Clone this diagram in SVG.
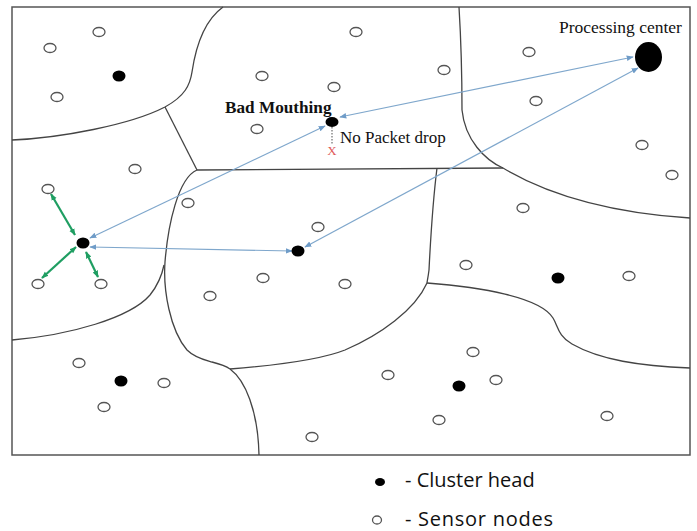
<svg xmlns="http://www.w3.org/2000/svg" width="697" height="531" viewBox="0 0 697 531">
  <style>
    .frame { fill: #fff; stroke: #555; stroke-width: 1.5; }
    .border { fill: none; stroke: #444; stroke-width: 1.3; }
    .sensor { fill: #fff; stroke: #555; stroke-width: 1.3; }
    .head { fill: #000; }
    .link { fill: none; stroke: #7fa7cc; stroke-width: 1.2; marker-start: url(#blueHead); marker-end: url(#blueHead); }
    .local { fill: none; stroke: #1f9e62; stroke-width: 2.2; marker-start: url(#greenHead); marker-end: url(#greenHead); }
    .serif { font-family: "Liberation Serif", "Times New Roman", serif; fill: #111; }
    .sans { font-family: "Open Sans", "Liberation Sans", sans-serif; fill: #111; font-size: 20px; }
  </style>
  <defs>
    <marker id="blueHead" viewBox="0 0 10 10" refX="9" refY="5" markerWidth="7" markerHeight="7" markerUnits="userSpaceOnUse" orient="auto-start-reverse">
      <path d="M0,1 L10,5 L0,9 Z" fill="#6f9cc8"/>
    </marker>
    <marker id="greenHead" viewBox="0 0 10 10" refX="9" refY="5" markerWidth="7" markerHeight="7" markerUnits="userSpaceOnUse" orient="auto-start-reverse">
      <path d="M0,1 L10,5 L0,9 Z" fill="#1f9e62"/>
    </marker>
  </defs>

  <rect x="0" y="0" width="697" height="531" fill="#fff"/>

  <!-- field and cluster boundaries -->
  <g id="field">
    <rect class="frame" x="12" y="7" width="678" height="448"/>
    <path class="border" d="M12,140 C60,138 130,125 165,107 C185,96 190,85 192,72 C196,45 205,20 223,7"/>
    <path class="border" d="M165,107 L197,170"/>
    <path class="border" d="M197,170 L503,168"/>
    <path class="border" d="M459,7 C461,40 462,90 462,110 C465,140 485,160 503,168 C540,190 600,212 690,218"/>
    <path class="border" d="M437,168 C433,200 430,250 429,270 C428,278 427,282 427,283"/>
    <path class="border" d="M12,340 C70,335 130,318 150,295 C158,285 162,275 164,265"/>
    <path class="border" d="M197,170 C178,178 168,225 165,262 C163,290 170,330 187,350 C195,358 205,360 212,362 C220,364 226,366 230,369"/>
    <path class="border" d="M230,369 C245,380 258,410 259,455"/>
    <path class="border" d="M230,369 C280,365 320,360 345,350 C380,335 415,310 427,283"/>
    <path class="border" d="M427,283 C480,287 540,297 553,318 C558,326 558,336 572,344 C600,360 640,366 690,368"/>
  </g>

  <!-- communication links -->
  <g id="connectors">
    <line class="link" x1="340" y1="117" x2="633" y2="57"/>
    <line class="link" x1="90" y1="238" x2="325" y2="126"/>
    <line class="link" x1="305" y1="247" x2="638" y2="68"/>
    <line class="link" x1="90" y1="247" x2="292" y2="251"/>
    <line class="local" x1="51" y1="194" x2="75" y2="235"/>
    <line class="local" x1="42" y1="278" x2="76" y2="247"/>
    <line class="local" x1="98" y1="277" x2="86" y2="252"/>
    <line x1="332" y1="127" x2="332" y2="144" stroke="#777" stroke-width="1.3" stroke-dasharray="1.5,1.5"/>
  </g>

  <!-- sensor nodes -->
  <g id="sensors">
    <ellipse class="sensor" cx="50" cy="48" rx="6" ry="4.5"/>
    <ellipse class="sensor" cx="99" cy="32" rx="6" ry="4.5"/>
    <ellipse class="sensor" cx="57" cy="97" rx="6" ry="4.5"/>
    <ellipse class="sensor" cx="262" cy="76" rx="6" ry="4.5"/>
    <ellipse class="sensor" cx="334" cy="87" rx="6" ry="4.5"/>
    <ellipse class="sensor" cx="257" cy="129" rx="6" ry="4.5"/>
    <ellipse class="sensor" cx="135" cy="169" rx="6" ry="4.5"/>
    <ellipse class="sensor" cx="48" cy="189" rx="6" ry="4.5"/>
    <ellipse class="sensor" cx="188" cy="203" rx="6" ry="4.5"/>
    <ellipse class="sensor" cx="356" cy="32" rx="6" ry="4.5"/>
    <ellipse class="sensor" cx="444" cy="70" rx="6" ry="4.5"/>
    <ellipse class="sensor" cx="529" cy="52" rx="6" ry="4.5"/>
    <ellipse class="sensor" cx="536" cy="101" rx="6" ry="4.5"/>
    <ellipse class="sensor" cx="642" cy="145" rx="6" ry="4.5"/>
    <ellipse class="sensor" cx="672" cy="175" rx="6" ry="4.5"/>
    <ellipse class="sensor" cx="523" cy="208" rx="6" ry="4.5"/>
    <ellipse class="sensor" cx="38" cy="284" rx="6" ry="4.5"/>
    <ellipse class="sensor" cx="101" cy="284" rx="6" ry="4.5"/>
    <ellipse class="sensor" cx="318" cy="227" rx="6" ry="4.5"/>
    <ellipse class="sensor" cx="263" cy="278" rx="6" ry="4.5"/>
    <ellipse class="sensor" cx="210" cy="296" rx="6" ry="4.5"/>
    <ellipse class="sensor" cx="345" cy="284" rx="6" ry="4.5"/>
    <ellipse class="sensor" cx="466" cy="265" rx="6" ry="4.5"/>
    <ellipse class="sensor" cx="629" cy="276" rx="6" ry="4.5"/>
    <ellipse class="sensor" cx="79" cy="363" rx="6" ry="4.5"/>
    <ellipse class="sensor" cx="164" cy="383" rx="6" ry="4.5"/>
    <ellipse class="sensor" cx="104" cy="407" rx="6" ry="4.5"/>
    <ellipse class="sensor" cx="312" cy="437" rx="6" ry="4.5"/>
    <ellipse class="sensor" cx="473" cy="352" rx="6" ry="4.5"/>
    <ellipse class="sensor" cx="388" cy="375" rx="6" ry="4.5"/>
    <ellipse class="sensor" cx="496" cy="380" rx="6" ry="4.5"/>
    <ellipse class="sensor" cx="439" cy="420" rx="6" ry="4.5"/>
    <ellipse class="sensor" cx="607" cy="416" rx="6" ry="4.5"/>
  </g>

  <!-- cluster heads -->
  <g id="ch-top-left"><ellipse class="head" cx="119" cy="76" rx="6.5" ry="5.5"/></g>
  <g id="ch-bad-mouthing">
    <ellipse class="head" cx="332" cy="122" rx="6.5" ry="5"/>
    <text class="serif" x="225" y="113" font-size="17.2" font-weight="bold">Bad Mouthing</text>
    <text class="serif" x="340" y="143" font-size="17">No Packet drop</text>
    <text x="332" y="155" font-family="Liberation Serif, serif" font-size="13" fill="#e05a5a" text-anchor="middle">X</text>
  </g>
  <g id="ch-left"><ellipse class="head" cx="83" cy="243" rx="6.5" ry="5.5"/></g>
  <g id="ch-middle"><ellipse class="head" cx="298" cy="251" rx="6.5" ry="5.5"/></g>
  <g id="ch-right"><ellipse class="head" cx="558" cy="278" rx="6.5" ry="5.5"/></g>
  <g id="ch-bottom-left"><ellipse class="head" cx="121" cy="381" rx="6.5" ry="5.5"/></g>
  <g id="ch-bottom"><ellipse class="head" cx="459" cy="386" rx="6.5" ry="5.5"/></g>

  <g id="processing-center">
    <ellipse class="head" cx="648.5" cy="57" rx="13.5" ry="15"/>
    <text class="serif" x="559" y="33" font-size="17.5">Processing center</text>
  </g>

  <!-- legend -->
  <g id="legend">
    <ellipse class="head" cx="380" cy="482" rx="5" ry="4"/>
    <text class="sans" x="405" y="487">- Cluster head</text>
    <ellipse class="sensor" cx="377" cy="520" rx="4.5" ry="4" stroke-width="1.1"/>
    <text class="sans" x="405" y="526" textLength="148">- Sensor nodes</text>
  </g>
</svg>
